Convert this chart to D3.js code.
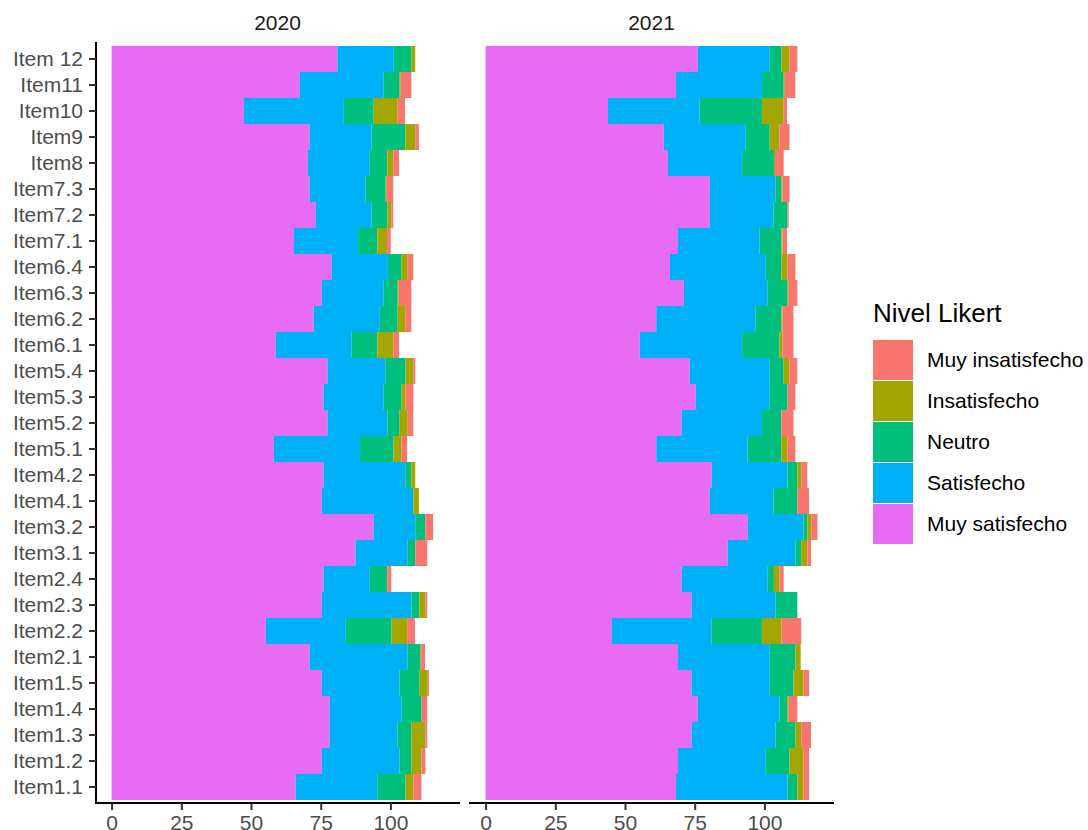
<!DOCTYPE html>
<html>
<head>
  <script src="https://d3js.org/d3.v7.min.js"></script>
  <style>
    body {
      margin: 0;
      background: #ffffff;
    }

    svg {
      font-family: "Liberation Sans", Arial, sans-serif;
    }

    .axis path, .axis line {
      fill: none;
    }

    .tick-label {
      font-size: 21px;
      fill: #4d4d4d;
    }

    .strip {
      font-size: 21px;
      fill: #1a1a1a;
    }

    .legend-title {
      font-size: 26px;
      fill: #000000;
    }

    .legend-label {
      font-size: 21px;
      fill: #000000;
    }
  </style>
</head>
<body>
  <div id="chart"></div>

  <script>
    // categories (top to bottom as drawn)
    const items = ["Item 12", "Item11", "Item10", "Item9", "Item8", "Item7.3", "Item7.2", "Item7.1",
      "Item6.4", "Item6.3", "Item6.2", "Item6.1", "Item5.4", "Item5.3", "Item5.2", "Item5.1",
      "Item4.2", "Item4.1", "Item3.2", "Item3.1", "Item2.4", "Item2.3", "Item2.2", "Item2.1",
      "Item1.5", "Item1.4", "Item1.3", "Item1.2", "Item1.1"];

    const years = ["2020", "2021"];

    // stacking order, left to right
    const levels = ["Muy satisfecho", "Satisfecho", "Neutro", "Insatisfecho", "Muy insatisfecho"];
    const levelColors = ["#E76BF3", "#00B0F6", "#00BF7D", "#A3A500", "#F8766D"];

    const xTicks = [0, 25, 50, 75, 100];

    // 2020 values
    const muySat2020 = [81.0, 67.4, 47.5, 71.0, 70.4, 71.0, 73.2, 65.4, 78.9, 75.4, 72.5, 58.9, 77.4, 76.0, 77.4, 58.2, 76.0, 75.4, 94.0, 87.5, 76.0, 75.4, 55.3, 71.0, 75.4, 78.2, 78.2, 75.4, 66.0];
    const sat2020 = [20.2, 30.2, 35.8, 22.3, 22.2, 20.1, 20.1, 23.0, 20.2, 22.2, 23.7, 27.2, 20.8, 21.6, 21.5, 30.9, 29.3, 32.8, 14.9, 18.7, 16.6, 32.1, 28.7, 35.2, 27.9, 25.8, 24.4, 27.9, 29.3];
    const neu2020 = [6.4, 5.7, 10.7, 12.1, 6.3, 7.2, 5.6, 6.9, 4.9, 5.0, 6.4, 9.2, 7.2, 6.4, 4.4, 12.0, 2.2, 0, 3.6, 2.7, 6.3, 2.9, 16.4, 4.5, 7.2, 7.2, 5.0, 4.3, 10.1];
    const ins2020 = [1.3, 0.4, 8.6, 3.5, 2.2, 0.4, 1.4, 3.5, 2.2, 0.4, 2.7, 5.8, 2.8, 1.4, 2.9, 2.8, 1.4, 2.0, 0, 0, 0, 2.1, 5.6, 0.3, 2.9, 0, 4.9, 3.5, 2.8];
    const muyIns2020 = [0, 3.8, 2.6, 1.3, 2.0, 2.3, 0.7, 1.3, 2.0, 4.5, 2.2, 2.0, 0.7, 2.8, 2.0, 2.1, 0, 0, 2.8, 4.3, 1.4, 0.7, 2.8, 1.4, 0.4, 2.0, 0.7, 1.4, 2.9];

    // 2021 values
    const muySat2021 = [76.1, 68.3, 43.9, 63.9, 65.4, 80.4, 80.4, 69.0, 66.1, 71.1, 61.2, 55.3, 73.2, 75.4, 70.3, 61.2, 81.1, 80.4, 94.0, 86.8, 70.3, 73.9, 45.3, 69.0, 73.9, 76.1, 73.9, 69.0, 68.3];
    const sat2021 = [25.8, 30.8, 32.9, 29.4, 26.6, 23.6, 22.8, 29.3, 34.4, 30.1, 35.7, 36.7, 28.7, 26.5, 28.8, 32.8, 27.2, 22.8, 20.0, 24.3, 30.9, 30.1, 35.8, 32.9, 28.0, 29.3, 30.1, 31.5, 40.0];
    const neu2021 = [4.2, 7.8, 22.3, 8.6, 11.4, 2.1, 5.1, 7.8, 5.6, 7.1, 9.2, 13.4, 5.0, 6.4, 7.0, 12.1, 3.5, 8.6, 1.4, 2.1, 2.2, 7.8, 18.0, 9.2, 8.5, 2.9, 7.1, 8.5, 3.5];
    const ins2021 = [2.9, 0.4, 7.8, 3.5, 0.4, 0.4, 0, 0.4, 2.2, 0.4, 0.4, 1.1, 2.1, 0, 0, 2.2, 1.4, 0, 1.4, 2.2, 2.0, 0, 7.0, 1.9, 3.6, 0.4, 2.1, 5.0, 2.2];
    const muyIns2021 = [2.8, 3.8, 1.2, 3.6, 3.1, 2.5, 0.4, 1.6, 2.8, 3.1, 3.9, 3.9, 2.8, 2.8, 4.3, 2.8, 2.2, 4.2, 2.2, 1.3, 1.5, 0, 7.1, 0, 2.0, 3.1, 3.5, 2.0, 2.0];

    const series = {
      "2020": [muySat2020, sat2020, neu2020, ins2020, muyIns2020],
      "2021": [muySat2021, sat2021, neu2021, ins2021, muyIns2021]
    };

    function tableFor(year) {
      return items.map((item, i) => {
        const row = { item: item };
        levels.forEach((lv, j) => { row[lv] = series[year][j][i]; });
        return row;
      });
    }

    const width = 1088, height = 830;
    const panelTop = 42, panelBottom = 803;
    const panels = [
      { year: "2020", left: 95, right: 460 },
      { year: "2021", left: 469, right: 834 }
    ];

    const svg = d3.select("#chart")
      .append("svg")
        .attr("width", width)
        .attr("height", height);

    const color = d3.scaleOrdinal()
      .domain(levels)
      .range(levelColors);

    const stack = d3.stack().keys(levels);
    const stacked = {};
    years.forEach(y => { stacked[y] = stack(tableFor(y)); });

    // shared x scale with ggplot-like 5% expansion
    const maxTotal = d3.max(years, y => d3.max(stacked[y], s => d3.max(s, d => d[1])));
    const xDomain = [-0.05 * maxTotal, 1.05 * maxTotal];

    const y = d3.scaleBand()
      .domain(items)
      .range([46, 800])
      .padding(0);

    panels.forEach((p, pi) => {
      const x = d3.scaleLinear()
        .domain(xDomain)
        .range([p.left, p.right]);

      const g = svg.append("g");

      // bars
      g.append("g")
        .selectAll("g")
        .data(stacked[p.year])
        .join("g")
          .attr("fill", d => color(d.key))
          .selectAll("rect")
          .data(d => d)
          .join("rect")
            .attr("x", d => x(d[0]))
            .attr("y", d => y(d.data.item))
            .attr("width", d => Math.max(0, x(d[1]) - x(d[0])))
            .attr("height", y.bandwidth());

      // strip label
      g.append("text")
        .attr("class", "strip")
        .attr("text-anchor", "middle")
        .attr("x", (p.left + p.right) / 2)
        .attr("y", 30)
        .text(p.year);

      // x axis
      const xAxis = g.append("g")
        .attr("class", "axis")
        .attr("transform", `translate(0,${panelBottom})`)
        .call(d3.axisBottom(x).tickValues(xTicks).tickSize(7).tickSizeOuter(0).tickPadding(5));
      xAxis.select(".domain")
        .attr("d", `M${p.left},0H${p.right}`)
        .attr("stroke", "#000")
        .attr("stroke-width", 2);
      xAxis.selectAll(".tick line").attr("stroke", "#333333").attr("stroke-width", 2);
      xAxis.selectAll(".tick text")
        .attr("class", "tick-label")
        .attr("font-size", null)
        .attr("font-family", null)
        .attr("fill", null);

      // y axis only on first panel
      if (pi === 0) {
        const yAxis = g.append("g")
          .attr("class", "axis")
          .attr("transform", `translate(${p.left + 1},0)`)
          .call(d3.axisLeft(y).tickSize(7).tickSizeOuter(0).tickPadding(6));
        yAxis.select(".domain")
          .attr("d", `M0,${panelTop}V${panelBottom}`)
          .attr("stroke", "#000")
          .attr("stroke-width", 2);
        yAxis.selectAll(".tick line").attr("stroke", "#333333").attr("stroke-width", 2);
        yAxis.selectAll(".tick text")
          .attr("class", "tick-label")
          .attr("font-size", null)
          .attr("font-family", null)
          .attr("fill", null);
      }
    });

    // legend
    const legendLevels = levels.slice().reverse();
    const legend = svg.append("g")
      .attr("transform", "translate(873,0)");

    legend.append("text")
      .attr("class", "legend-title")
      .attr("x", 0)
      .attr("y", 322)
      .text("Nivel Likert");

    const legendItems = legend.selectAll("g")
      .data(legendLevels)
      .join("g")
      .attr("transform", (d, i) => `translate(0, ${340 + i * 41})`);

    legendItems.append("rect")
      .attr("width", 40)
      .attr("height", 40)
      .attr("fill", d => color(d));

    legendItems.append("text")
      .attr("class", "legend-label")
      .attr("x", 54)
      .attr("y", 20)
      .attr("dy", "0.35em")
      .text(d => d);
  </script>
</body>
</html>
